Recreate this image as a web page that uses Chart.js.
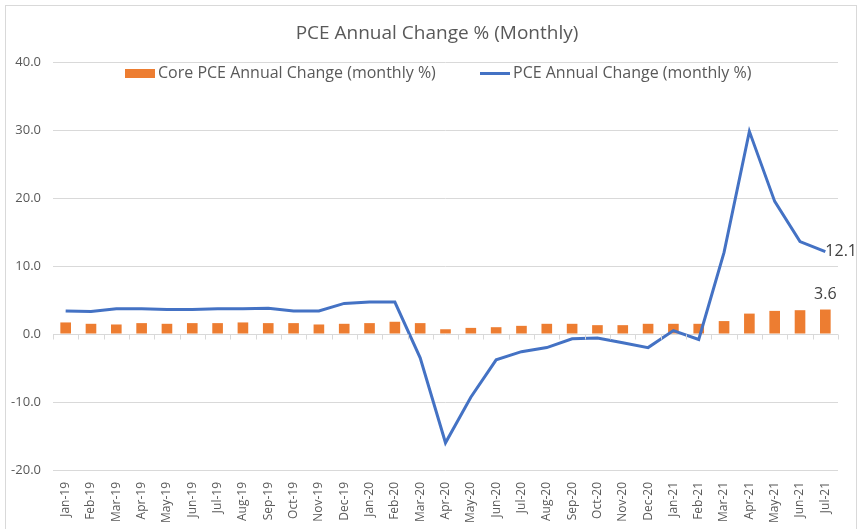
<!DOCTYPE html>
<html><head><meta charset="utf-8">
<script src="https://cdn.jsdelivr.net/npm/chart.js@4"></script>
<style>
html,body{margin:0;padding:0;background:#fff;}
#wrap{position:relative;width:864px;height:529px;}
#frame{position:absolute;left:5px;top:5px;width:852px;height:530px;border:1px solid #d9d9d9;box-sizing:border-box;pointer-events:none;}
#title{position:absolute;top:20px;left:237px;width:400px;text-align:center;font-family:'Open Sans',sans-serif;font-size:19px;line-height:24px;color:#595959;white-space:nowrap;}
#legend{position:absolute;top:62px;left:0;width:864px;height:20px;font-family:'Open Sans',sans-serif;font-size:16px;color:#595959;}
.li{position:absolute;top:0;white-space:nowrap;line-height:20px;}
.sw{display:inline-block;vertical-align:middle;margin-right:3px;}
</style></head>
<body>
<div id="wrap">
<canvas id="c" width="864" height="529"></canvas>
<div id="title">PCE Annual Change % (Monthly)</div>
<div id="legend">
  <div class="li" style="left:125px"><span class="sw" style="width:30px;height:9px;background:#ED7D31"></span>Core PCE Annual Change (monthly %)</div>
  <div class="li" style="left:480px"><span class="sw" style="width:30px;height:3px;background:#4472C4"></span>PCE Annual Change (monthly %)</div>
</div>
<div id="frame"></div>
</div>
<script>
const categories = ["Jan-19","Feb-19","Mar-19","Apr-19","May-19","Jun-19","Jul-19","Aug-19","Sep-19","Oct-19","Nov-19","Dec-19",
"Jan-20","Feb-20","Mar-20","Apr-20","May-20","Jun-20","Jul-20","Aug-20","Sep-20","Oct-20","Nov-20","Dec-20",
"Jan-21","Feb-21","Mar-21","Apr-21","May-21","Jun-21","Jul-21"];
const corePCE = [1.7,1.5,1.4,1.6,1.5,1.6,1.6,1.7,1.6,1.6,1.4,1.5,
1.6,1.8,1.6,0.7,0.9,1.0,1.2,1.5,1.5,1.3,1.3,1.5,
1.5,1.5,1.9,3.0,3.4,3.5,3.6];
const pce = [3.4,3.3,3.7,3.7,3.6,3.6,3.7,3.7,3.8,3.4,3.4,4.5,
4.7,4.7,-3.5,-16.0,-9.3,-3.8,-2.6,-2.0,-0.7,-0.6,-1.3,-2.0,
0.5,-0.8,12.0,29.8,19.5,13.6,12.1];
const yTicks = [-20,-10,0,10,20,30,40];

const FONT = "'Open Sans',sans-serif";

const extras = {
  id:'extras',
  afterDatasetsDraw(chart){
    const ctx = chart.ctx;
    const x = chart.scales.x, y = chart.scales.y;
    ctx.save();
    ctx.strokeStyle = '#d9d9d9';
    ctx.lineWidth = 1;
    const y0 = Math.round(y.getPixelForValue(0)) + 0.5;
    const half = (x.getPixelForValue(1) - x.getPixelForValue(0)) / 2;
    for (let i = 0; i <= categories.length; i++) {
      const px = Math.round(x.getPixelForValue(i) - half) + 0.5;
      ctx.beginPath(); ctx.moveTo(px, y0); ctx.lineTo(px, y0 + 5); ctx.stroke();
    }
    ctx.fillStyle = '#404040';
    ctx.font = '16px ' + FONT;
    const last = categories.length - 1;
    const lp = chart.getDatasetMeta(1).data[last];
    ctx.textAlign = 'left'; ctx.textBaseline = 'middle';
    ctx.fillText(pce[last].toFixed(1), lp.x, lp.y);
    const bp = chart.getDatasetMeta(0).data[last];
    ctx.textAlign = 'center'; ctx.textBaseline = 'bottom';
    ctx.fillText(corePCE[last].toFixed(1), bp.x, bp.y - 7);
    ctx.restore();
  }
};

new Chart(document.getElementById('c'), {
  type:'bar',
  data:{
    labels:categories,
    datasets:[
      {type:'bar',label:'Core PCE Annual Change (monthly %)',data:corePCE,backgroundColor:'#ED7D31',
       categoryPercentage:1,barPercentage:0.42,order:2},
      {type:'line',label:'PCE Annual Change (monthly %)',data:pce,borderColor:'#4472C4',backgroundColor:'#4472C4',
       borderWidth:3,pointRadius:0,tension:0,order:1}
    ]
  },
  plugins:[extras],
  options:{
    responsive:false,animation:false,
    layout:{padding:{left:0,right:26,top:62,bottom:4}},
    plugins:{
      legend:{display:false},
      tooltip:{enabled:false},
      title:{display:false}
    },
    scales:{
      x:{
        grid:{display:false},
        border:{display:false},
        ticks:{color:'#595959',font:{family:FONT,size:12},minRotation:90,maxRotation:90,autoSkip:false,padding:4},
        afterFit(s){ s.height = 55; }
      },
      y:{
        min:-20,max:40,
        afterBuildTicks(s){ s.ticks = yTicks.map(v=>({value:v})); },
        grid:{color:'#d9d9d9',drawTicks:false},
        border:{display:false},
        ticks:{color:'#595959',font:{family:FONT,size:13},padding:12,callback:v=>Number(v).toFixed(1)},
        afterFit(s){ s.width = 53; }
      }
    }
  }
});
</script>
</body></html>
